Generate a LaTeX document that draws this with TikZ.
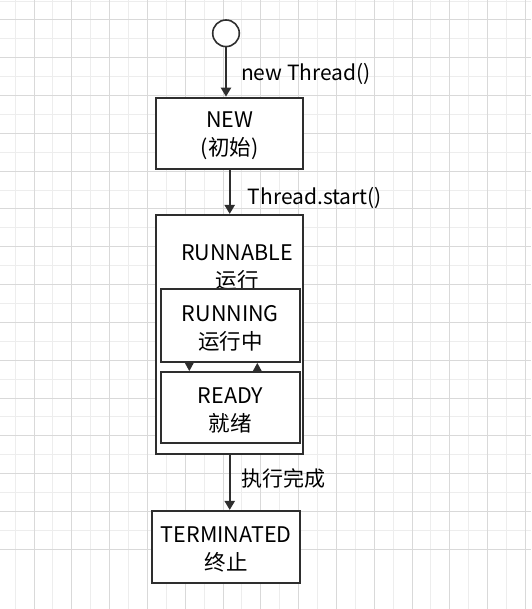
\documentclass[tikz,border=0pt]{standalone}
\usepackage{fontspec}
\usetikzlibrary{arrows.meta}
\newfontfamily\cjk{Noto Sans CJK SC}
\definecolor{gridlight}{HTML}{EDEDED}
\definecolor{griddark}{HTML}{D9D9D9}
\definecolor{edgegray}{HTML}{2E2E2E}
\newcommand{\tstrut}{\rule{0pt}{21pt}}
\begin{document}
\begin{tikzpicture}[x=1pt, y=-1pt,
                    state/.style={draw=edgegray, line width=2.2pt, fill=white, inner sep=0pt,
                                  text centered, text=black, align=center,
                                  font=\cjk\fontsize{21.5}{28}\selectfont},
                    txt/.style={inner sep=0pt, text=black, align=center,
                                font=\cjk\fontsize{21.5}{28}\selectfont},
                    lbl/.style={right, inner sep=0pt, text=black,
                                font=\cjk\fontsize{21}{24}\selectfont},
                    trans/.style={-{Triangle[length=9pt,width=10pt]}, color=edgegray, line width=2.2pt},
                    small/.style={-{Triangle[length=8pt,width=8pt]}}]
	\useasboundingbox (0,0) rectangle (531,609);
	\fill[white] (0,0) rectangle (531,609);
	% grid
	\foreach \k in {0,...,14} {
		\draw[gridlight, line width=1pt] (15.1+37.8*\k,0) -- ++(0,609);
		\draw[gridlight, line width=1pt] (0,1.1+37.8*\k) -- ++(531,0);
	}
	\foreach \k in {0,...,14} {
		\draw[griddark, line width=1pt] (34+37.8*\k,0) -- ++(0,609);
		\draw[griddark, line width=1pt] (0,20+37.8*\k) -- ++(531,0);
	}
	% states
	\node[circle, draw=edgegray, line width=1.6pt, fill=white, minimum size=26.6pt, inner sep=0pt] (init) at (226,33.3) {};
	\node[state, minimum width=147.3pt, minimum height=71.3pt] (new) at (229.7,133.4) {\tstrut NEW\\(初始)};
	\node[state, minimum width=147.3pt, minimum height=239pt] (runnable) at (229.7,334.5) {};
	\node[txt] (runnablelbl) at (237,268) {RUNNABLE\\运行};
	\node[state, minimum width=139.3pt, minimum height=72.4pt] (running) at (230.3,325.5) {\tstrut RUNNING\\运行中};
	\node[state, minimum width=139.3pt, minimum height=71pt] (ready) at (230.3,407.8) {\tstrut READY\\就绪};
	\node[state, minimum width=147.7pt, minimum height=72.3pt] (term) at (226.2,547.2) {\tstrut TERMINATED\\终止};
	% transitions
	\path[trans] (init)            edge node[lbl, xshift=14pt, yshift=-2pt] {new Thread()} (init |- new.north)
	             (new.south)       edge node[lbl, xshift=17pt, yshift=-6pt] {Thread.start()} (runnable.north)
	             ([xshift=-41pt]running.south) edge[small] ([xshift=-41pt]ready.north)
	             ([xshift=27pt]ready.north)    edge[small] ([xshift=27pt]running.south)
	             (runnable.south)  edge node[lbl, xshift=11pt, yshift=4pt] {执行完成} (runnable.south |- term.north);
\end{tikzpicture}
\end{document}
